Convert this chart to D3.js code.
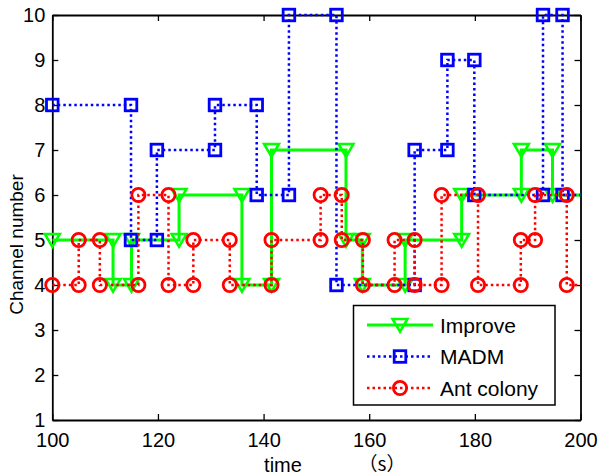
<!DOCTYPE html>
<html><head><meta charset="utf-8">
<script src="https://cdn.jsdelivr.net/npm/d3@7"></script>
<style>body{margin:0;background:#fff}svg{display:block}text{font-family:"Liberation Sans",Arial,sans-serif;fill:#000}</style>
</head><body>
<script>
// Data
const xTicks = [100,120,140,160,180,200];
const yTicks = [1,2,3,4,5,6,7,8,9,10];
const seriesNames = ["Improve","MADM","Ant colony"];
const improveT = [100,111.5,111.5,115,115,124,124,135.9,135.9,141.5,141.5,155.6,155.6,158.7,158.7,166.8,166.8,177.5,177.5,188.8,188.8,194.7,194.7,205];
const improveCh = [5,5,4,4,5,5,6,6,4,4,7,7,5,5,4,4,5,5,6,6,7,7,6,6];
const madmT = [100,114.9,114.9,119.8,119.8,130.8,130.8,138.7,138.7,144.8,144.8,153.8,153.8,168.6,168.6,174.8,174.8,179.9,179.9,192.9,192.9,196.6,196.6,205];
const madmCh = [8,8,5,5,7,7,8,8,6,6,10,10,4,4,7,7,9,9,6,6,10,10,6,6];
const antT = [100,105,105,109,109,116.3,116.3,122,122,126.7,126.7,133.6,133.6,141.5,141.5,150.8,150.8,154.8,154.8,158.8,158.8,164.8,164.8,168.6,168.6,173.7,173.7,180.6,180.6,188.7,188.7,191.4,191.4,197.4,197.4,205];
const antCh = [4,4,5,5,4,4,6,6,4,4,5,5,4,4,5,5,6,6,5,5,4,4,5,5,4,4,6,6,4,4,5,5,6,6,4,4];

const W=599,H=476;
const L=52.3,R=580.5,T=15,B=420;
const x=d3.scaleLinear().domain([100,200]).range([L,R]);
const y=d3.scaleLinear().domain([1,10]).range([B,T]);

const svg=d3.select("body").append("svg").attr("width",W).attr("height",H);
svg.append("defs").append("clipPath").attr("id","clip").append("rect")
  .attr("x",L).attr("y",T-20).attr("width",R-L).attr("height",B-T+40);

// axes box
const ax=svg.append("g");
const tickLen=6;
ax.append("g").attr("transform",`translate(0,${B})`).call(d3.axisBottom(x).tickValues(xTicks).tickSizeInner(-tickLen).tickSizeOuter(0).tickPadding(13));
ax.append("g").attr("transform",`translate(0,${T})`).call(d3.axisTop(x).tickValues(xTicks).tickSizeInner(-tickLen).tickSizeOuter(0).tickFormat(""));
ax.append("g").attr("transform",`translate(${L},0)`).call(d3.axisLeft(y).tickValues(yTicks).tickSizeInner(-tickLen).tickSizeOuter(0).tickPadding(7));
ax.append("g").attr("transform",`translate(${R},0)`).call(d3.axisRight(y).tickValues(yTicks).tickSizeInner(-tickLen).tickSizeOuter(0).tickFormat(""));
ax.selectAll(".domain").attr("stroke","#000").attr("stroke-width",1.8);
ax.selectAll(".tick line").attr("stroke","#000").attr("stroke-width",1.3);
ax.selectAll(".tick text").attr("font-size",20).attr("font-family","Liberation Sans, Arial, sans-serif").attr("fill","#000");

const series=[
 {t:improveT,c:improveCh,color:"#00ff00",dash:null,marker:"tri"},
 {t:madmT,c:madmCh,color:"#0000ff",dash:"2.5,3",marker:"sq"},
 {t:antT,c:antCh,color:"#ff0000",dash:"2.5,3",marker:"circ"}
];
function drawMarker(g,type,cx,cy,color){
  if(type==="tri"){
    const s=7.5;
    g.append("path").attr("d",`M${cx-s},${cy-s*0.8}L${cx+s},${cy-s*0.8}L${cx},${cy+s*0.9}Z`)
     .attr("fill","none").attr("stroke",color).attr("stroke-width",2.5);
  } else if(type==="sq"){
    const s=5.8;
    g.append("rect").attr("x",cx-s).attr("y",cy-s).attr("width",2*s).attr("height",2*s)
     .attr("fill","none").attr("stroke",color).attr("stroke-width",2.8);
  } else {
    g.append("circle").attr("cx",cx).attr("cy",cy).attr("r",6.6)
     .attr("fill","none").attr("stroke",color).attr("stroke-width",2.8);
  }
}
const line=d3.line().x(d=>x(d[0])).y(d=>y(d[1]));
series.forEach(s=>{
  const pts=s.t.map((t,i)=>[t,s.c[i]]);
  const g=svg.append("g");
  g.append("path").attr("d",line(pts)).attr("clip-path","url(#clip)")
   .attr("fill","none").attr("stroke",s.color).attr("stroke-width",s.dash?2.5:3)
   .attr("stroke-dasharray",s.dash).attr("stroke-linejoin","miter");
  pts.filter(p=>p[0]<=200).forEach(p=>drawMarker(g,s.marker,x(p[0]),y(p[1]),s.color));
});

// labels
svg.append("text").attr("transform",`translate(23,${(T+B)/2+27}) rotate(-90)`).attr("text-anchor","middle")
  .attr("font-size",19).text("Channel number");
svg.append("text").attr("x",283).attr("y",472).attr("text-anchor","middle").attr("font-size",20).text("time");
svg.append("text").attr("x",382).attr("y",471).attr("text-anchor","middle").attr("font-size",19)
  .style("font-family","'Noto Sans CJK SC',sans-serif").text("（s）");

// legend
const lg=svg.append("g");
lg.append("rect").attr("x",353.5).attr("y",305.5).attr("width",201.5).attr("height",99.5)
  .attr("fill","#fff").attr("stroke","#000").attr("stroke-width",1.5);
const lgY=[325,356.5,388];
series.forEach((s,i)=>{
  lg.append("line").attr("x1",367).attr("x2",433).attr("y1",lgY[i]).attr("y2",lgY[i])
    .attr("stroke",s.color).attr("stroke-width",s.dash?2.5:3).attr("stroke-dasharray",s.dash);
  drawMarker(lg,s.marker,400,lgY[i],s.color);
  lg.append("text").attr("x",440).attr("y",lgY[i]).attr("dy","0.36em").attr("font-size",21).text(seriesNames[i]);
});
</script>
</body></html>
